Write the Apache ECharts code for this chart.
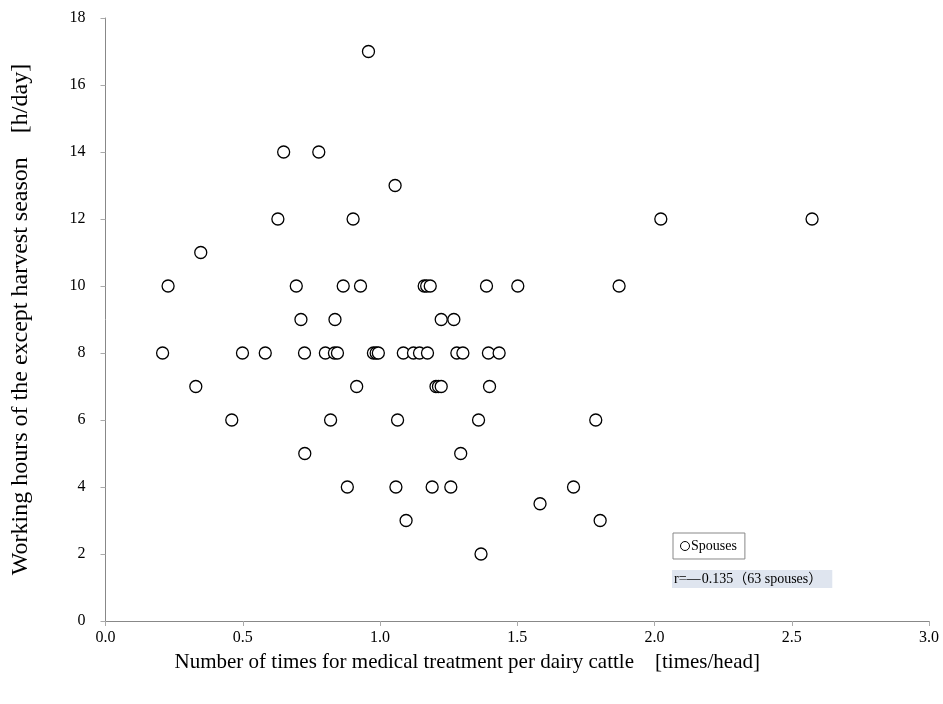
<!DOCTYPE html>
<html>
<head>
<meta charset="utf-8">
<script src="https://cdn.jsdelivr.net/npm/echarts@6/dist/echarts.min.js"></script>
<style>html,body{margin:0;padding:0;background:#fff}#c{width:943px;height:704px}</style>
</head>
<body>
<div id="c"></div>
<script>
const treatmentTimes = [
  0.958,
  0.649, 0.777,
  1.055,
  0.628, 0.902, 2.023, 2.574,
  0.347,
  0.228, 0.695, 0.866, 0.929, 1.161, 1.170, 1.183, 1.388, 1.502, 1.871,
  0.712, 0.836, 1.223, 1.269,
  0.208, 0.499, 0.582, 0.725, 0.801, 0.834, 0.845, 0.976, 0.986, 0.994, 1.085, 1.122, 1.144, 1.173, 1.280, 1.302, 1.395, 1.434,
  0.329, 0.915, 1.204, 1.213, 1.223, 1.399,
  0.460, 0.820, 1.064, 1.359, 1.786,
  0.726, 1.294,
  0.881, 1.058, 1.190, 1.258, 1.705,
  1.583,
  1.095, 1.802,
  1.368
];
const workingHours = [
  17,
  14, 14,
  13,
  12, 12, 12, 12,
  11,
  10, 10, 10, 10, 10, 10, 10, 10, 10, 10,
  9, 9, 9, 9,
  8, 8, 8, 8, 8, 8, 8, 8, 8, 8, 8, 8, 8, 8, 8, 8, 8, 8,
  7, 7, 7, 7, 7, 7,
  6, 6, 6, 6, 6,
  5, 5,
  4, 4, 4, 4, 4,
  3.5,
  3, 3,
  2
];
const seriesName = 'Spouses';
const xTitle = 'Number of times for medical treatment per dairy cattle\u3000[times/head]';
const yTitle = 'Working hours of the except harvest season\u3000[h/day]';
const noteText = 'r=\u2014\u200A0.135\uFF0863 spouses\uFF09';

const points = treatmentTimes.map((x, i) => [x, workingHours[i]]);
const serif = '"Liberation Serif", "DejaVu Serif", "Noto Sans CJK JP", serif';

const chart = echarts.init(document.getElementById('c'), null, {renderer: 'canvas'});
chart.setOption({
  backgroundColor: '#fff',
  animation: false,
  grid: {left: 105.5, right: 14, top: 18, bottom: 83, containLabel: false},
  title: {
    text: noteText,
    left: 672, top: 570,
    padding: [2, 10, 2, 2],
    backgroundColor: '#dfe5ef',
    textStyle: {fontFamily: serif, fontSize: 14, fontWeight: 'normal', color: '#000'}
  },
  legend: {
    data: [seriesName],
    left: 673, top: 533,
    orient: 'horizontal',
    borderColor: '#888', borderWidth: 1,
    padding: [6, 8, 6, 7],
    itemWidth: 10, itemHeight: 9, itemGap: 2,
    icon: 'circle',
    itemStyle: {color: '#fff', borderColor: '#000', borderWidth: 1},
    textStyle: {fontFamily: serif, fontSize: 14, color: '#000', padding: [0, 0, 0, -4]}
  },
  xAxis: {
    type: 'value', min: 0, max: 3, interval: 0.5,
    name: xTitle, nameLocation: 'middle', nameGap: 31,
    nameTextStyle: {fontFamily: serif, fontSize: 21, color: '#000', padding: [0, 100, 0, 0]},
    axisLine: {show: true, lineStyle: {color: '#888', width: 1}},
    axisTick: {show: true, inside: false, length: 5, lineStyle: {color: '#aaa'}},
    axisLabel: {fontFamily: serif, fontSize: 16, color: '#000', margin: 9, formatter: v => v.toFixed(1)},
    splitLine: {show: false}
  },
  yAxis: {
    type: 'value', min: 0, max: 18, interval: 2,
    name: yTitle, nameLocation: 'middle', nameGap: 73, nameRotate: 90,
    nameTextStyle: {fontFamily: serif, fontSize: 24, color: '#000'},
    axisLine: {show: true, lineStyle: {color: '#888', width: 1}},
    axisTick: {show: true, inside: false, length: 5, lineStyle: {color: '#aaa'}},
    axisLabel: {fontFamily: serif, fontSize: 16, color: '#000', margin: 20},
    splitLine: {show: false}
  },
  series: [{
    name: seriesName,
    type: 'scatter',
    symbol: 'circle',
    symbolSize: 12,
    itemStyle: {color: '#fff', borderColor: '#000', borderWidth: 1.3, opacity: 1},
    data: points
  }]
});
</script>
</body>
</html>
